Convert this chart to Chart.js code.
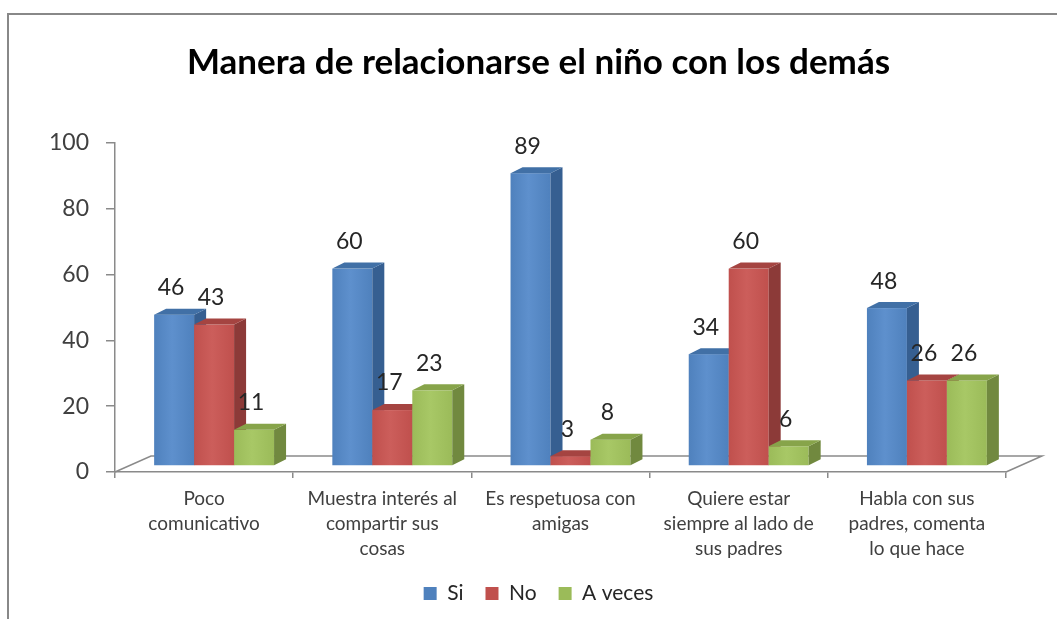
<!DOCTYPE html>
<html>
<head>
<meta charset="utf-8">
<script src="https://cdn.jsdelivr.net/npm/chart.js@4.4.1/dist/chart.umd.min.js"></script>
<style>
    body { margin: 0; background: #fff; }
    #marco { position: absolute; left: 7px; top: 13px; width: 1100px; height: 700px; border: 2px solid #888; }
    #chart { position: absolute; left: 0; top: 0; }
</style>
</head>
<body>
<div id="marco"></div>
<canvas id="chart" width="1057" height="619"></canvas>
<script>
const categorias = [
    ['Poco', 'comunicativo'],
    ['Muestra interés al', 'compartir sus', 'cosas'],
    ['Es respetuosa con', 'amigas'],
    ['Quiere estar', 'siempre al lado de', 'sus padres'],
    ['Habla con sus', 'padres, comenta', 'lo que hace'],
];
const si = [46, 60, 89, 34, 48];
const no = [43, 17, 3, 60, 26];
const aVeces = [11, 23, 8, 6, 26];
const yTicks = [0, 20, 40, 60, 80, 100];

const series = ['Si', 'No', 'A veces'];
// front, light, side, top
const colores = [
    ['#4f81bd', '#5e90cd', '#365f91', '#4170a6'],
    ['#c0504d', '#cc5e5b', '#8c3a38', '#a54441'],
    ['#9bbb59', '#a8c866', '#71893f', '#87a44a'],
];

const FONT = 'Lato, "Open Sans", sans-serif';
const DX = 10, DY = -6;   // front face of the bars, shifted to the middle of the floor
const SX = 12, SY = -6;   // depth of one bar
const FX = 36, FY = -16;  // depth of the floor

const barras3d = {
    id: 'barras3d',
    beforeDatasetsDraw(chart) {
        const ctx = chart.ctx;
        const xs = chart.scales.x, ys = chart.scales.y;
        const y0 = ys.getPixelForValue(0);

        // floor outline
        ctx.save();
        ctx.strokeStyle = '#8a8a8a';
        ctx.lineWidth = 1.5;
        ctx.beginPath();
        ctx.moveTo(xs.left, y0);
        ctx.lineTo(xs.left + FX, y0 + FY);
        ctx.lineTo(xs.right + FX, y0 + FY);
        ctx.lineTo(xs.right, y0);
        ctx.stroke();

        chart.data.datasets.forEach((ds, i) => {
            const c = colores[i];
            chart.getDatasetMeta(i).data.forEach((bar) => {
                const p = bar.getProps(['x', 'y', 'base', 'width'], true);
                const l = p.x - p.width / 2 + DX, r = l + p.width;
                const t = p.y + DY, b = p.base + DY;

                const g = ctx.createLinearGradient(l, 0, r, 0);
                g.addColorStop(0, c[0]);
                g.addColorStop(0.45, c[1]);
                g.addColorStop(1, c[0]);
                ctx.fillStyle = g;
                ctx.fillRect(l, t, p.width, b - t);

                ctx.fillStyle = c[2];
                ctx.beginPath();
                ctx.moveTo(r, t);
                ctx.lineTo(r + SX, t + SY);
                ctx.lineTo(r + SX, b + SY);
                ctx.lineTo(r, b);
                ctx.closePath();
                ctx.fill();

                ctx.fillStyle = c[3];
                ctx.beginPath();
                ctx.moveTo(l, t);
                ctx.lineTo(l + SX, t + SY);
                ctx.lineTo(r + SX, t + SY);
                ctx.lineTo(r, t);
                ctx.closePath();
                ctx.fill();
            });
        });

        // value labels
        ctx.fillStyle = '#262626';
        ctx.font = '23px ' + FONT;
        ctx.textAlign = 'center';
        ctx.textBaseline = 'middle';
        chart.data.datasets.forEach((ds, i) => {
            chart.getDatasetMeta(i).data.forEach((bar, j) => {
                const p = bar.getProps(['x', 'y'], true);
                ctx.fillText(ds.data[j], p.x + DX - 3, p.y + DY - 27);
            });
        });
        ctx.restore();
        return false;
    }
};

const data = {
    labels: categorias,
    datasets: [
        { label: series[0], data: si, backgroundColor: colores[0][0] },
        { label: series[1], data: no, backgroundColor: colores[1][0] },
        { label: series[2], data: aVeces, backgroundColor: colores[2][0] },
    ]
};

const config = {
    type: 'bar',
    data: data,
    options: {
        responsive: false,
        animation: false,
        categoryPercentage: 0.673,
        barPercentage: 1,
        layout: { padding: { left: 20, right: 0, top: 0, bottom: 5 } },
        plugins: {
            title: {
                display: true,
                text: 'Manera de relacionarse el niño con los demás',
                color: '#000',
                font: { family: FONT, size: 35, weight: 'bold' },
                padding: { top: 42, bottom: 59 },
            },
            legend: {
                position: 'bottom',
                labels: {
                    color: '#262626',
                    font: { family: FONT, size: 21 },
                    boxWidth: 13,
                    boxHeight: 13,
                    padding: 22,
                },
            },
            tooltip: { enabled: false },
        },
        scales: {
            x: {
                afterFit: (s) => { s.height = 89; },
                grid: { drawOnChartArea: false, offset: true, tickLength: 6, color: '#8a8a8a', lineWidth: 1.5 },
                border: { color: '#8a8a8a', width: 1.5 },
                ticks: {
                    color: '#404040',
                    font: { family: FONT, size: 19, lineHeight: 1.3 },
                    padding: 9,
                    maxRotation: 0,
                    autoSkip: false,
                },
            },
            y: {
                min: 0,
                max: 100,
                afterFit: (s) => { s.width = 95; },
                afterBuildTicks: (s) => { s.ticks = yTicks.map((v) => ({ value: v })); },
                grid: { drawOnChartArea: false, tickLength: 9, color: '#8a8a8a', lineWidth: 1.5 },
                border: { color: '#8a8a8a', width: 1.5 },
                ticks: {
                    color: '#404040',
                    font: { family: FONT, size: 23 },
                    padding: 17,
                },
            },
            // empty strip on the right, keeps the plot where it is
            y2: {
                position: 'right',
                afterFit: (s) => { s.width = 51; },
                grid: { display: false },
                border: { display: false },
                ticks: { display: false },
            },
        },
    },
    plugins: [barras3d],
};

new Chart(document.querySelector('#chart'), config);
</script>
</body>
</html>
